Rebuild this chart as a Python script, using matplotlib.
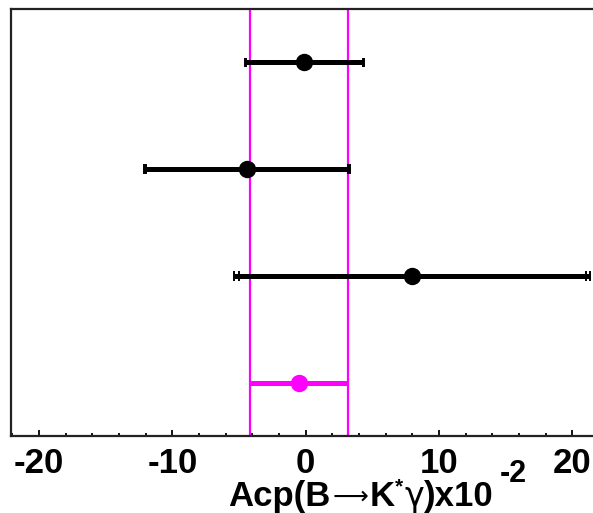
import matplotlib
matplotlib.use("Agg")
import matplotlib.pyplot as plt
from matplotlib.ticker import MultipleLocator

# Acp(B -> K* gamma) measurements, in units of 1e-2
values = [-0.1, -4.4, 8.0]
stat_err = [4.4, 7.6, 13.0]
syst_err = [0.8, 1.2, 3.0]
rows = [3.5, 2.5, 1.5]

# average
avg_value = -0.5
avg_err = 3.7
avg_row = 0.5

tick_values = [-20, -10, 0, 10, 20]

W, H = 593, 513
fig = plt.figure(figsize=(W / 100, H / 100), dpi=100)
ax = fig.add_axes([11 / W, 77 / H, 589.4 / W, 427 / H])

ax.set_xlim(-22.1, 22.1)
ax.set_ylim(0, 4)

MAGENTA = "#ff00ff"

# band edges of the average
ax.axvline(avg_value - avg_err, color=MAGENTA, lw=1.6, zorder=1)
ax.axvline(avg_value + avg_err, color=MAGENTA, lw=1.6, zorder=1)

cap_h = 0.045


def draw_point(x, y, errs, color):
    lo = x - max(errs)
    hi = x + max(errs)
    ax.hlines(y, lo, hi, color=color, lw=3.6, zorder=3)
    for e in errs:
        ax.vlines([x - e, x + e], y - cap_h, y + cap_h, color=color, lw=1.4, zorder=3)
    ax.plot([x], [y], "o", color=color, ms=11.5, zorder=4)


for v, s, sy, r in zip(values, stat_err, syst_err, rows):
    tot = (s ** 2 + sy ** 2) ** 0.5
    draw_point(v, r, [s, tot], "black")

draw_point(avg_value, avg_row, [avg_err], MAGENTA)

for side in ["left", "top", "bottom", "right"]:
    ax.spines[side].set_linewidth(1.6)
    ax.spines[side].set_color("#222222")

ax.set_yticks([])
ax.xaxis.set_minor_locator(MultipleLocator(2))
ax.set_xticks(tick_values)
ax.set_xticklabels([str(t) for t in tick_values])
ax.tick_params(axis="x", which="major", direction="in", length=4.5, width=1.3,
               pad=8, labelsize=25, top=False)
ax.tick_params(axis="x", which="minor", direction="in", length=2.3, width=1.3, top=False)
for lbl in ax.get_xticklabels():
    lbl.set_fontfamily("Liberation Sans")
    lbl.set_fontweight("bold")

# axis title assembled piece by piece: (text, size, family, weight, rise px, gap px before)
title_parts = [
    ("Acp(B", 25, "Liberation Sans", "bold", 0, 0),
    ("\u27f6", 18, "DejaVu Sans", "normal", 2, 2),
    ("K", 25, "Liberation Sans", "bold", 0, 1),
    ("*", 15, "Liberation Sans", "bold", 14, 1),
    ("\u03b3", 24, "DejaVu Sans", "normal", 0, 1),
    (")x10", 25, "Liberation Sans", "bold", 0, 0),
    ("-2", 22, "Liberation Sans", "bold", 24, 6),
]

renderer = fig.canvas.get_renderer()
x_px = 228.0
base_px = 7.0
for txt, size, fam, weight, rise, gap in title_parts:
    x_px += gap
    t = fig.text(x_px / W, (base_px + rise) / H, txt, fontsize=size, family=fam,
                 fontweight=weight, ha="left", va="baseline")
    bb = t.get_window_extent(renderer=renderer)
    x_px += bb.width

fig.savefig("out.png", dpi=100)
